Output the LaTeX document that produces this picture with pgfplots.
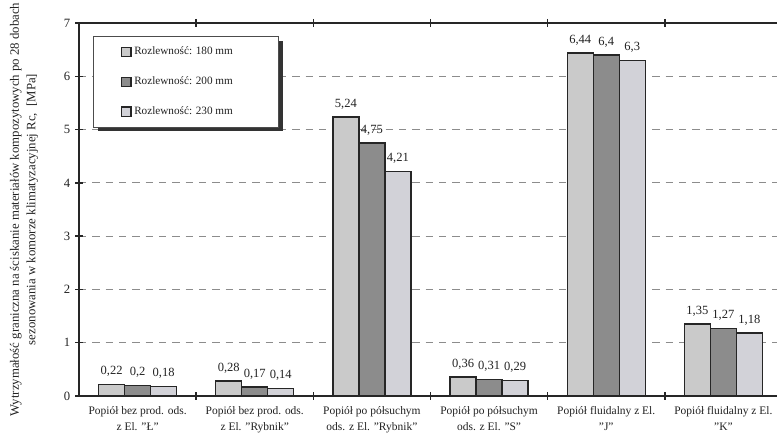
\documentclass[border=0pt]{standalone}
\usepackage{fontspec}
\setmainfont{Liberation Serif}
\usepackage{pgfplots}
\pgfplotsset{compat=1.18}

\definecolor{cA}{HTML}{CACACA}
\definecolor{cB}{HTML}{8C8C8C}
\definecolor{cC}{HTML}{D2D2D8}
\definecolor{txt}{HTML}{222222}

\pgfplotsset{/pgfplots/ybar legend/.style={/pgfplots/legend image code/.code={\draw[##1, line width=0.9pt] (0pt,-3.6pt) rectangle (7.2pt,3.6pt);}}}

\begin{document}
\begin{tikzpicture}[font=\fontsize{8.5}{10}\selectfont, text=txt]
\begin{axis}[
  set layers,
  scale only axis, width=527.25pt, height=279.75pt,
  xmin=-0.5, xmax=5.5, ymin=0, ymax=7,
  ybar=0pt, bar width=19.5pt,
  ytick={0,1,...,7},
  /pgf/number format/assume math mode=true,
  ymajorgrids,
  grid style={dash pattern=on 5.5pt off 4.5pt, black!45, line width=0.6pt},
  axis line style={line width=1.6pt, black!85},
  ytick style={line width=1.1pt, black!85},
  y tick label style={font=\fontsize{9.5}{11}\selectfont},
  major tick length=6pt,
  tick align=center,
  xtick={0.5,1.5,2.5,3.5,4.5},
  xticklabels={},
  xtick style={line width=1.1pt, black!85},
  extra x ticks={0,1,2,3,4,5},
  extra x tick labels={{Popiół bez prod. ods.\\z El. "Ł"},{Popiół bez prod. ods.\\z El. "Rybnik"},{Popiół po półsuchym\\ods. z El. "Rybnik"},{Popiół po półsuchym\\ods. z El. "S"},{Popiół fluidalny z El.\\"J"},{Popiół fluidalny z El.\\"K"}},
  extra x tick style={major tick length=0pt, grid=none, xticklabel style={align=center, font=\fontsize{8.6}{12}\selectfont, yshift=-4.5pt}},
  ylabel={Wytrzymałość graniczna na ściskanie materiałów kompozytowych po 28 dobach\\sezonowania w komorze klimatyzacyjnej Rc,\ \ [MPa]},
  ylabel style={at={(axis description cs:-0.0782,0.5)}, anchor=center, align=center, font=\fontsize{9.6}{12.5}\selectfont},
  nodes near coords,
  every node near coord/.append style={font=\fontsize{9.4}{11}\selectfont, /pgf/number format/use comma, yshift=2pt, text=txt},
  legend cell align=left,
  legend style={at={(axis description cs:0.02,0.965)}, anchor=north west,
    draw=black!70, line width=0.6pt, fill=white,
    inner xsep=20.5pt, inner ysep=6pt, row sep=11.1pt,
    font=\fontsize{8.4}{10}\selectfont},
]
\fill[black!80] (axis description cs:0.0271,0.9516) rectangle (axis description cs:0.2902,0.7103);
\addplot[fill=cA, draw=black!85, line width=1.1pt] coordinates {(0,0.22) (1,0.28) (2,5.24) (3,0.36) (4,6.44) (5,1.35)};
\addplot[fill=cB, draw=black!85, line width=1.1pt] coordinates {(0,0.20) (1,0.17) (2,4.75) (3,0.31) (4,6.40) (5,1.27)};
\addplot[fill=cC, draw=black!85, line width=1.1pt] coordinates {(0,0.18) (1,0.14) (2,4.21) (3,0.29) (4,6.30) (5,1.18)};
\legend{Rozlewność: 180 mm\hspace{12pt}\null,Rozlewność: 200 mm\hspace{12pt}\null,Rozlewność: 230 mm\hspace{12pt}\null}
\end{axis}
\pgfresetboundingbox
\path[use as bounding box] (-59.25pt,-33.75pt) rectangle (523.5pt,297pt);
\end{tikzpicture}
\end{document}
